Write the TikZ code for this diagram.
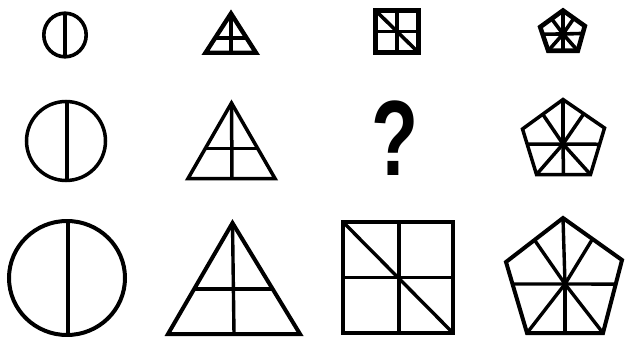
\documentclass[tikz,border=0pt]{standalone}
\usepackage{fontspec}
\newfontfamily\qfont{Liberation Sans}
\usetikzlibrary{calc}
\tikzset{
  outl/.style={draw=black, line join=miter},
  big/.style={line width=4pt},
  mid/.style={line width=3.5pt},
  small/.style={line width=3.6pt},
  smallout/.style={line width=4.4pt},
}
\begin{document}
\begin{tikzpicture}[x=1pt,y=-1pt]
\useasboundingbox (0,0) rectangle (626,337);

% ---------- Row 1 ----------
% circle
\draw[outl,small] (65,35) ellipse [x radius=21.2, y radius=21.8];
\draw[small] (65,13.5) -- (65,56.5);
% triangle
\coordinate (t1a) at (231,13.5);
\coordinate (t1l) at (205.5,52.8);
\coordinate (t1r) at (256,52.8);
\draw[outl,smallout] (t1a) -- (t1l) -- (t1r) -- cycle;
\draw[small] (t1a) -- (231,52.8);
\draw[small] ($(t1a)!0.62!(t1l)$) -- ($(t1a)!0.62!(t1r)$);
% square
\draw[outl,smallout,line width=4.8pt] (375.4,10.4) rectangle (418.6,52.6);
\draw[small] (397,10.4) -- (397,52.6);
\draw[small] (375.4,31.5) -- (418.6,31.5);
\draw[small] (375.4,10.4) -- (418.6,52.6);
% pentagon
\coordinate (p1a) at (563,10.5);
\coordinate (p1b) at (584.8,26);
\coordinate (p1c) at (577.8,50.8);
\coordinate (p1d) at (548.2,50.8);
\coordinate (p1e) at (540.2,27);
\coordinate (p1o) at (563,34);
\draw[outl,smallout,line width=4.6pt] (p1a) -- (p1b) -- (p1c) -- (p1d) -- (p1e) -- cycle;
\foreach \p in {(p1a),(p1c),(p1d),($(p1c)!0.5!(p1d)$),($(p1a)!0.5!(p1e)$),($(p1a)!0.5!(p1b)$),($(p1e)!0.3!(p1d)$),($(p1b)!0.3!(p1c)$)}
  \draw[small] (p1o) -- \p;
\fill (p1o) circle [radius=4.5];

% ---------- Row 2 ----------
\draw[outl,mid] (66,141) circle [radius=39.5];
\draw[mid] (67,101.5) -- (67,180.5);
\coordinate (t2a) at (231.5,103);
\coordinate (t2l) at (188,178.5);
\coordinate (t2r) at (275,178.5);
\draw[outl,mid] (t2a) -- (t2l) -- (t2r) -- cycle;
\draw[mid] (t2a) -- (232,178.5);
\draw[mid] ($(t2a)!0.6!(t2l)$) -- ($(t2a)!0.6!(t2r)$);
% question mark
\node[inner sep=0pt, xscale=0.72, font=\qfont\bfseries\fontsize{107}{107}\selectfont] (q) at (395,138.5) {?};
% pentagon
\coordinate (p2a) at (563,99.5);
\coordinate (p2b) at (604.5,128);
\coordinate (p2c) at (590.5,174.5);
\coordinate (p2d) at (536.5,174.5);
\coordinate (p2e) at (522.5,129);
\coordinate (p2o) at (563,144);
\draw[outl,mid] (p2a) -- (p2b) -- (p2c) -- (p2d) -- (p2e) -- cycle;
\foreach \p in {(p2a),(p2c),(p2d),($(p2c)!0.5!(p2d)$),($(p2a)!0.5!(p2e)$),($(p2a)!0.5!(p2b)$),($(p2e)!0.33!(p2d)$),($(p2b)!0.35!(p2c)$)}
  \draw[mid] (p2o) -- \p;
\fill (p2o) circle [radius=3];

% ---------- Row 3 ----------
\draw[outl,big] (67,278) ellipse [x radius=58, y radius=57];
\draw[big,line width=3.2pt] (68,221) -- (68,337);
\coordinate (t3a) at (232.5,223);
\coordinate (t3l) at (168,334);
\coordinate (t3r) at (300,334);
\draw[outl,big] (t3a) -- (t3l) -- (t3r) -- cycle;
\draw[big,line width=3.4pt] (t3a) -- (234,334);
\draw[big,line width=3.4pt] ($(t3a)!0.595!(t3l)$) -- ($(t3a)!0.595!(t3r)$);
% square
\draw[outl,big] (343,222) rectangle (453,333);
\draw[big,line width=3.4pt] (399,222) -- (399,333);
\draw[big,line width=3.4pt] (343,277.5) -- (453,277.5);
\draw[big,line width=3.4pt] (343,222) -- (453,333);
% pentagon
\coordinate (p3a) at (563,218);
\coordinate (p3b) at (622,260);
\coordinate (p3c) at (603,333);
\coordinate (p3d) at (527,333);
\coordinate (p3e) at (506,262);
\coordinate (p3o) at (565,284);
\draw[outl,big] (p3a) -- (p3b) -- (p3c) -- (p3d) -- (p3e) -- cycle;
\foreach \p in {(p3a),(p3c),(p3d),($(p3c)!0.5!(p3d)$),($(p3a)!0.5!(p3e)$),($(p3a)!0.5!(p3b)$),($(p3e)!0.31!(p3d)$),($(p3b)!0.33!(p3c)$)}
  \draw[big,line width=3.4pt] (p3o) -- \p;
\fill (p3o) circle [radius=3.5];
\end{tikzpicture}
\end{document}
